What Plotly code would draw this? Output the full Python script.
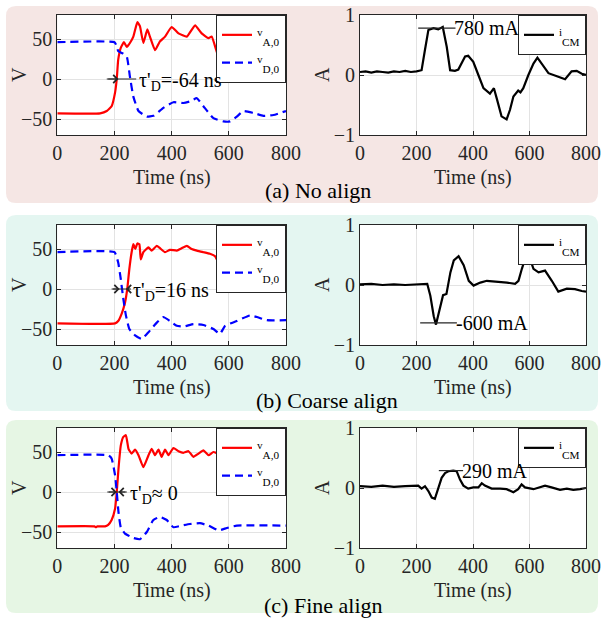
import plotly.graph_objects as go

W, H = 603, 618

# ---------------- data ----------------
time_ticks = [0, 200, 400, 600, 800]
v_ticks = [-50, 0, 50]
a_ticks = [-1, 0, 1]

# (a) No align
va_a_t = [0, 150, 173, 190, 202, 208, 213, 222, 233, 243, 254, 266, 280, 289, 301, 315, 324, 342, 359, 377, 400, 424, 453, 482, 505, 529, 540, 564, 580, 620, 680, 740, 800]
va_a_v = [-43, -43, -40, -34, -17, 0, 24, 39, 46, 40, 45, 53, 71, 66, 45, 62, 53, 36, 47, 53, 65, 57, 53, 67, 57, 51, 53, 28, 25, 35, 42, 40, 40]
vd_a_t = [0, 200, 208, 213, 229, 243, 254, 266, 284, 313, 336, 371, 406, 441, 464, 488, 511, 546, 581, 604, 628, 651, 686, 721, 756, 800]
vd_a_v = [46, 46, 41, 35, 32, 28, 3, -22, -40, -47, -46, -36, -29, -30, -28, -24, -34, -49, -53, -53, -47, -40, -42.5, -46, -45, -40]
icm_a_t = [0, 20, 40, 60, 80, 100, 120, 140, 160, 180, 200, 218, 230, 242, 260, 277, 293, 307, 319, 336, 348, 372, 383, 401, 419, 437, 460, 474, 484, 501, 519, 531, 543, 552, 560, 568, 578, 596, 614, 628, 643, 667, 702, 726, 749, 767, 785, 800]
icm_a = [0.05, 0.06, 0.04, 0.06, 0.05, 0.04, 0.06, 0.05, 0.07, 0.05, 0.06, 0.08, 0.42, 0.75, 0.78, 0.76, 0.8, 0.47, 0.08, 0.07, 0.09, 0.31, 0.32, 0.22, 0.0, -0.22, -0.31, -0.22, -0.39, -0.69, -0.74, -0.58, -0.36, -0.30, -0.26, -0.29, -0.22, 0.0, 0.19, 0.29, 0.19, 0.03, -0.03, -0.07, 0.06, 0.07, 0.02, 0.0]

# (b) Coarse align
va_b_t = [0, 202, 213, 225, 237, 245, 252, 260, 266, 273, 280, 287, 292, 301, 319, 330, 348, 359, 377, 394, 418, 435, 453, 470, 488, 511, 534, 552, 564, 600, 680, 800]
va_b_v = [-43, -43, -40, -31, -17, 1, 25, 46, 56, 50, 57, 56, 37, 46, 52, 48, 54, 51, 46, 49, 48, 51, 54, 50, 48, 46, 44, 41, 33, 38, 40, 40]
vd_b_t = [0, 200, 213, 222, 231, 240, 252, 272, 295, 319, 348, 371, 394, 418, 441, 476, 511, 546, 569, 587, 628, 674, 698, 733, 800]
vd_b_v = [46, 46, 33, 12.5, -12.5, -33, -50, -58, -62.5, -54, -42, -35, -40, -46, -47, -44, -45, -50, -56, -46, -40, -33, -35, -39, -39]
icm_b_t = [0, 40, 80, 120, 160, 200, 232, 238, 249, 261, 269, 279, 294, 306, 320, 332, 349, 367, 385, 402, 426, 449, 485, 520, 549, 561, 573, 588, 596, 614, 632, 655, 679, 702, 732, 761, 785, 800]
icm_b = [0.01, 0.02, 0.0, 0.01, 0.0, 0.01, 0.02, 0.02, -0.18, -0.52, -0.66, -0.46, -0.17, -0.15, 0.21, 0.41, 0.48, 0.33, 0.07, -0.01, 0.04, 0.07, 0.06, 0.04, 0.02, 0.07, 0.27, 0.49, 0.52, 0.27, 0.21, 0.24, 0.07, -0.11, -0.06, -0.07, -0.1, -0.11]

# (c) Fine align
va_c_t = [0, 130, 135, 140, 167, 178, 190, 202, 208, 214, 222, 231, 240, 249, 260, 272, 284, 301, 319, 330, 342, 354, 365, 377, 389, 406, 424, 441, 459, 476, 494, 511, 529, 546, 564, 620, 700, 800]
va_c_v = [-43, -43, -44, -43, -43, -41, -35, -21, 0, 29, 58, 69, 71, 54, 48, 53, 46, 31, 46, 54, 46, 53, 44, 53, 46, 55, 51, 49, 51, 44, 48, 52, 46, 50, 48, 48, 48, 48]
vd_c_t = [0, 179, 190, 202, 208, 214, 222, 237, 266, 289, 313, 336, 359, 383, 406, 435, 464, 499, 529, 564, 593, 628, 800]
vd_c_v = [46, 46, 42, 21, 0, -25, -44, -52, -57.5, -59, -50, -35, -31, -35, -44, -42, -40, -39, -42, -48, -45, -42, -42]
icm_c_t = [0, 40, 80, 120, 160, 190, 206, 218, 230, 242, 254, 265, 277, 289, 301, 313, 330, 342, 354, 366, 383, 401, 419, 431, 442, 466, 496, 519, 543, 560, 572, 584, 614, 637, 655, 678, 708, 732, 755, 779, 800]
icm_c = [0.03, 0.02, 0.04, 0.02, 0.03, 0.03, 0.04, -0.01, 0.03, -0.05, -0.16, -0.18, -0.02, 0.17, 0.25, 0.28, 0.29, 0.28, 0.14, 0.04, -0.01, 0.01, 0.01, 0.08, 0.04, -0.01, -0.01, -0.02, -0.07, -0.02, 0.06, 0.01, -0.02, 0.01, 0.04, 0.01, -0.03, -0.01, -0.03, -0.02, 0.0]

# delay markers: [left tail, left head, right head, right tail, text start]
tau_a = [173, 214, 264, 276, 279]
tau_b = [190, 218, 240, 258, 258]
tau_c = [175, 208, 214, 243, 246]
tau_texts = ["τ'<sub>D</sub>=-64 ns", "τ'<sub>D</sub>=16 ns", "τ'<sub>D</sub>≈ 0"]

# peak markers: [line start, line end, level]
peak_a = [206, 338, 0.78]
peak_b = [213, 343, -0.63]
peak_c = [279, 365, 0.29]
peak_texts = ["780 mA", "-600 mA", "290 mA"]

panel_titles = ["(a) No align", "(b) Coarse align", "(c) Fine align"]
legend_names = ["<sup>v</sup><sub>A,0</sub>", "<sup>v</sup><sub>D,0</sub>", "<sup>i</sup><sub>CM</sub>"]

# ---------------- layout helpers ----------------
def xd(a, b):
    return [a / W, b / W]

def yd(top, bottom):
    return [1 - bottom / H, 1 - top / H]

LX = (57.3, 286)
RX = (360, 586)
ROWS = [(15, 135), (225, 345), (428, 548)]
BOXES = [(6, 203, '#f5e6e4'), (215, 411, '#e4f6f1'), (420, 613, '#e6f6e4')]
TITLE_Y = [191, 400, 605]
TITLE_X = [318, 327, 323]

FONT = 'Liberation Serif'
DARK = '#262626'
GRID = '#e3e3e3'

fig = go.Figure()

def rounded(x0, y0, x1, y1, r):
    def P(x, y):
        return f"{x / W:.5f},{1 - y / H:.5f}"
    return (f"M {P(x0 + r, y0)} L {P(x1 - r, y0)} Q {P(x1, y0)} {P(x1, y0 + r)} "
            f"L {P(x1, y1 - r)} Q {P(x1, y1)} {P(x1 - r, y1)} "
            f"L {P(x0 + r, y1)} Q {P(x0, y1)} {P(x0, y1 - r)} "
            f"L {P(x0, y0 + r)} Q {P(x0, y0)} {P(x0 + r, y0)} Z")

def leg(name):
    return f'<span style="font-size:16px">{name}</span>'

shapes = []
for (t, b, c) in BOXES:
    shapes.append(dict(type='path', xref='paper', yref='paper', layer='below',
                       path=rounded(6, t, 598, b, 10), fillcolor=c, line=dict(width=0)))

annotations = []

series = [
    (va_a_t, va_a_v, vd_a_t, vd_a_v, icm_a_t, icm_a),
    (va_b_t, va_b_v, vd_b_t, vd_b_v, icm_b_t, icm_b),
    (va_c_t, va_c_v, vd_c_t, vd_c_v, icm_c_t, icm_c),
]
taus = [tau_a, tau_b, tau_c]
peaks = [peak_a, peak_b, peak_c]

def paper_text(xp, yp, text, size=20, color=DARK, angle=0):
    return dict(xref='paper', yref='paper', x=xp / W, y=1 - yp / H, text=text,
                xanchor='center', yanchor='middle', showarrow=False, textangle=angle,
                font=dict(family=FONT, size=size, color=color))

layout_axes = {}
for i, (vat, vav, vdt, vdv, it, iv) in enumerate(series):
    top, bot = ROWS[i]
    nL = 2 * i + 1
    nR = 2 * i + 2
    xL = 'x' if nL == 1 else f'x{nL}'
    yL = 'y' if nL == 1 else f'y{nL}'
    xR = f'x{nR}'
    yR = f'y{nR}'
    lgL = 'legend' if nL == 1 else f'legend{nL}'
    lgR = f'legend{nR}'

    for (x0, x1) in (LX, RX):
        shapes.append(dict(type='rect', xref='paper', yref='paper', layer='below',
                           x0=x0 / W, x1=x1 / W, y0=1 - bot / H, y1=1 - top / H,
                           fillcolor='white', line=dict(width=0)))

    fig.add_trace(go.Scatter(x=vat, y=vav, mode='lines', name=leg(legend_names[0]),
                             line=dict(color='#ff0000', width=2.2, shape='spline', smoothing=0.4),
                             xaxis=xL, yaxis=yL, legend=lgL))
    fig.add_trace(go.Scatter(x=vdt, y=vdv, mode='lines', name=leg(legend_names[1]),
                             line=dict(color='#0000ff', width=2.2, dash='8px,5px', shape='spline', smoothing=0.4),
                             xaxis=xL, yaxis=yL, legend=lgL))
    fig.add_trace(go.Scatter(x=it, y=iv, mode='lines', name=leg(legend_names[2]),
                             line=dict(color='#000000', width=2.2),
                             xaxis=xR, yaxis=yR, legend=lgR))

    axcommon = dict(showline=True, linecolor=DARK, linewidth=1, mirror='ticks',
                    ticks='inside', ticklen=4, tickcolor=DARK, showgrid=True, gridcolor=GRID,
                    gridwidth=1, zeroline=False, automargin=False,
                    tickfont=dict(family=FONT, size=20, color=DARK))
    layout_axes['xaxis' if nL == 1 else f'xaxis{nL}'] = dict(
        domain=xd(*LX), anchor=yL, range=[0, 800], tickvals=time_ticks, **axcommon)
    layout_axes['yaxis' if nL == 1 else f'yaxis{nL}'] = dict(
        domain=yd(top, bot), anchor=xL, range=[-70, 80], tickvals=v_ticks, **axcommon)
    layout_axes[f'xaxis{nR}'] = dict(
        domain=xd(*RX), anchor=yR, range=[0, 800], tickvals=time_ticks, **axcommon)
    layout_axes[f'yaxis{nR}'] = dict(
        domain=yd(top, bot), anchor=xR, range=[-1, 1], tickvals=a_ticks, **axcommon)

    legcommon = dict(bgcolor='white', bordercolor=DARK, borderwidth=1,
                     font=dict(family=FONT, size=19, color='#000'),
                     xanchor='right', yanchor='top', tracegroupgap=0, itemwidth=30)
    layout_axes[lgL] = dict(x=LX[1] / W, y=1 - top / H, **legcommon)
    layout_axes[lgR] = dict(x=RX[1] / W, y=1 - top / H, **legcommon)

    mid = (top + bot) / 2
    annotations.append(paper_text(19, mid, 'V', angle=-90))
    annotations.append(paper_text(322, mid, 'A', angle=-90))
    for (x0, x1) in (LX, RX):
        annotations.append(paper_text((x0 + x1) / 2, bot + 42, 'Time (ns)'))
    annotations.append(paper_text(TITLE_X[i], TITLE_Y[i], panel_titles[i], size=22, color='#000'))

    tl, hl, hr, tr, tx = taus[i]
    shapes.append(dict(type='line', xref=xL, yref=yL, x0=tl, x1=tr, y0=0, y1=0,
                       line=dict(color=DARK, width=1.2)))
    annotations.append(dict(xref=xL, yref=yL, x=hl, y=0, ax=tl, ay=0, axref=xL, ayref=yL,
                            text='', showarrow=True, arrowhead=4, arrowsize=1.3,
                            arrowwidth=1.2, arrowcolor=DARK))
    annotations.append(dict(xref=xL, yref=yL, x=hr, y=0, ax=tr, ay=0, axref=xL, ayref=yL,
                            text='', showarrow=True, arrowhead=4, arrowsize=1.3,
                            arrowwidth=1.2, arrowcolor=DARK))
    annotations.append(dict(xref=xL, yref=yL, x=tx, y=0, xanchor='left', yanchor='middle',
                            text=tau_texts[i], showarrow=False, yshift=-2,
                            font=dict(family=FONT, size=20, color='#000')))

    p0, p1, lv = peaks[i]
    shapes.append(dict(type='line', xref=xR, yref=yR, x0=p0, x1=p1, y0=lv, y1=lv,
                       line=dict(color=DARK, width=1.2)))
    annotations.append(dict(xref=xR, yref=yR, x=p1, y=lv, xanchor='left', yanchor='middle',
                            text=peak_texts[i], showarrow=False, xshift=-3,
                            font=dict(family=FONT, size=20, color='#000')))

fig.update_layout(
    width=W, height=H,
    margin=dict(l=0, r=0, t=0, b=0, autoexpand=False),
    paper_bgcolor='white', plot_bgcolor='rgba(0,0,0,0)',
    shapes=shapes, annotations=annotations,
    **layout_axes,
)

fig.write_html("out.html",
               post_script="document.body.style.margin='0';document.body.style.overflow='hidden';")
